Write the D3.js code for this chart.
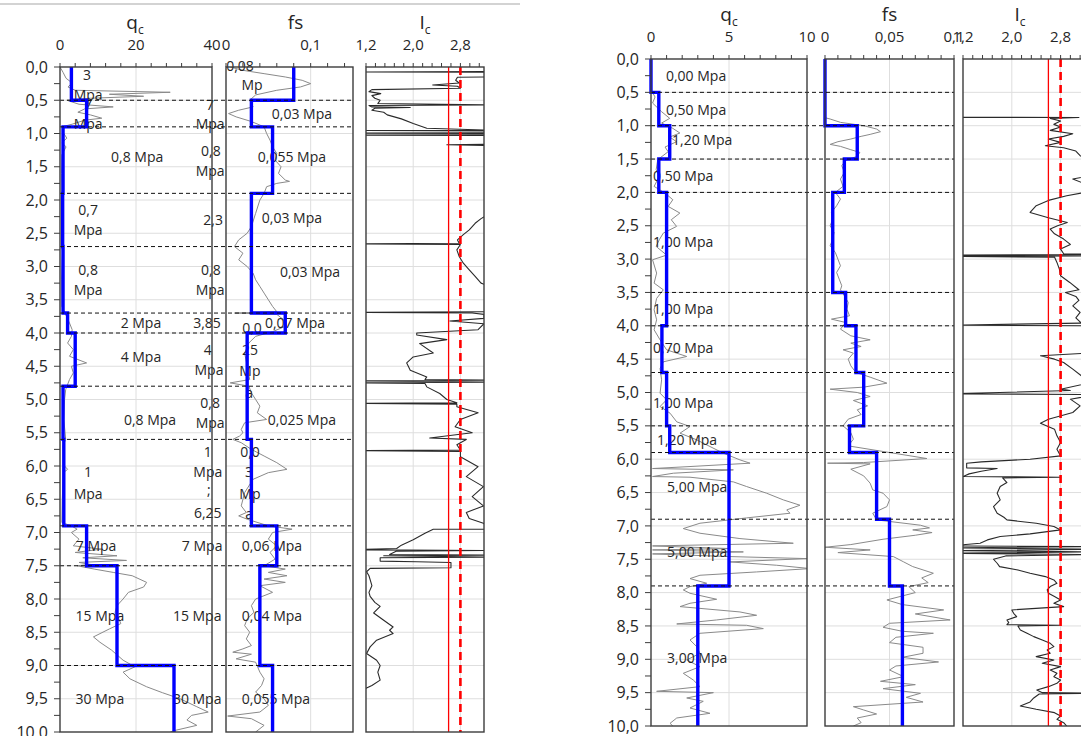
<!DOCTYPE html>
<html>
<head>
<meta charset="utf-8">
<script src="https://cdn.jsdelivr.net/npm/d3@7"></script>
<style>
  body { margin: 0; background: #fff; }
  svg { display: block; font-family: "Open Sans", sans-serif; }
</style>
</head>
<body>
<svg id="chart" width="1081" height="736"></svg>
<script>
// ---------------- depth axis ----------------
const depthTicks = [0, 0.5, 1, 1.5, 2, 2.5, 3, 3.5, 4, 4.5, 5, 5.5, 6, 6.5, 7, 7.5, 8, 8.5, 9, 9.5, 10];

// ---------------- profile A (left) ----------------
const aLayerBounds = [0, 0.5, 0.9, 1.9, 2.7, 3.7, 4.0, 4.8, 5.6, 6.9, 7.5, 9.0, 10];
const aQcLayers = [3, 7, 0.8, 0.7, 0.8, 2, 4, 0.8, 1, 7, 15, 30];
const aFsLayers = [0.08, 0.03, 0.055, 0.03, 0.03, 0.07, 0.025, 0.025, 0.03, 0.06, 0.04, 0.055];

// measured cone resistance [depth m, qc MPa]
const aQcRaw = [[0,0],[0.08,0.8],[0.17,1.6],[0.24,3.2],[0.3,2.1],[0.35,4],[0.38,29],[0.41,13],[0.44,22],[0.47,8],[0.5,1.8],
  [0.56,5],[0.6,14],[0.63,6.5],[0.68,4.7],[0.72,8],[0.77,11],[0.8,6.5],[0.86,3.2],[0.9,0.5],[1.0,1],[1.07,1.8],[1.14,0.5],
  [1.2,1.6],[1.32,0.5],[1.6,0.4],[2.0,0.5],[2.4,0.4],[2.8,0.6],[3.2,0.4],[3.6,0.5],[3.85,2.5],[3.95,3.2],[4.05,3.0],
  [4.15,2],[4.25,3.5],[4.35,2.5],[4.45,7],[4.5,3],[4.6,3.5],[4.7,2.5],[4.85,1.5],[5.0,1.2],[5.3,1],[5.6,1.5],[5.7,0.8],
  [6.0,1.2],[6.05,2],[6.1,0.9],[6.5,0.6],[6.85,0.5],[6.9,3],[6.95,4.5],[7.0,3],[7.1,5],[7.2,3.5],[7.25,11],[7.3,4],
  [7.35,15],[7.38,6],[7.42,17.5],[7.45,5],[7.48,8],[7.5,4.5],[7.55,9],[7.6,14],[7.65,19],[7.75,22.8],[7.82,22],[7.9,18],
  [8.0,16.6],[8.1,15],[8.2,14.5],[8.3,15.5],[8.37,16],[8.45,13],[8.57,8.8],[8.65,10.5],[8.77,13.6],[8.92,16.6],[9.02,19.7],
  [9.1,16.6],[9.2,18.4],[9.32,22.8],[9.41,27],[9.5,31.6],[9.62,36],[9.7,39],[9.75,34.6],[9.82,33.4],[9.9,36],[9.98,30],[10,29]];

// measured sleeve friction [depth m, fs MPa]
const aFsRaw = [[0,0.005],[0.05,0.02],[0.1,0.045],[0.15,0.07],[0.2,0.09],[0.25,0.1],[0.3,0.088],[0.35,0.06],[0.42,0.035],
  [0.5,0.028],[0.6,0.032],[0.65,0.015],[0.7,0.003],[0.75,0.012],[0.82,0.03],[0.9,0.045],[1.0,0.048],[1.1,0.052],[1.2,0.055],
  [1.3,0.06],[1.4,0.058],[1.5,0.065],[1.6,0.062],[1.7,0.07],[1.72,0.075],[1.75,0.06],[1.8,0.048],[1.9,0.045],[2.0,0.04],
  [2.2,0.035],[2.4,0.03],[2.5,0.025],[2.6,0.015],[2.7,0.01],[2.8,0.02],[2.9,0.015],[3.0,0.025],[3.1,0.032],[3.2,0.035],
  [3.3,0.04],[3.4,0.045],[3.5,0.05],[3.6,0.055],[3.68,0.06],[3.7,0.01],[3.72,0.06],[3.8,0.068],[3.9,0.07],[3.98,0.055],
  [4.05,0.035],[4.15,0.027],[4.3,0.022],[4.5,0.025],[4.7,0.028],[4.75,0.005],[4.8,0.027],[4.9,0.03],[5.0,0.035],[5.1,0.04],
  [5.2,0.037],[5.3,0.048],[5.35,0.022],[5.45,0.018],[5.5,0.02],[5.55,0.016],[5.6,0.008],[5.65,0.018],[5.75,0.03],[5.85,0.045],
  [5.95,0.06],[6.05,0.072],[6.1,0.05],[6.2,0.032],[6.4,0.022],[6.6,0.018],[6.7,0.024],[6.75,0.015],[6.8,0.025],[6.9,0.05],
  [6.95,0.078],[7.0,0.055],[7.1,0.05],[7.2,0.06],[7.3,0.052],[7.4,0.058],[7.5,0.045],[7.55,0.07],[7.6,0.05],[7.65,0.072],
  [7.7,0.045],[7.75,0.07],[7.8,0.04],[7.9,0.055],[8.0,0.035],[8.1,0.03],[8.2,0.033],[8.3,0.025],[8.4,0.022],[8.5,0.028],
  [8.6,0.024],[8.7,0.03],[8.75,0.02],[8.8,0.008],[8.83,0.03],[8.9,0.012],[8.95,0.035],[9.1,0.04],[9.2,0.045],[9.3,0.042],
  [9.4,0.035],[9.5,0.045],[9.6,0.05],[9.7,0.04],[9.76,0.002],[9.8,0.03],[9.9,0.045],[10,0.035]];

// soil behaviour type index [depth m, Ic]
const aIcRaw = [[0,3.3],[0.07,3.3],[0.075,1.0],[0.08,3.3],[0.15,3.3],[0.155,2.75],[0.2,2.72],[0.24,2.78],[0.27,2.33],
  [0.29,2.75],[0.32,2.8],[0.34,1.3],[0.37,1.25],[0.4,1.45],[0.43,1.3],[0.47,1.35],[0.5,1.44],[0.55,1.4],[0.57,3.3],
  [0.58,1.25],[0.6,1.3],[0.61,1.95],[0.62,1.35],[0.65,1.3],[0.68,1.5],[0.72,1.56],[0.78,1.8],[0.85,2.0],[0.92,2.23],
  [0.95,3.3],[0.955,1.0],[0.96,3.3],[0.99,3.3],[0.995,1.0],[1.0,3.3],[1.02,3.3],[1.025,1.0],[1.03,3.3],[1.16,3.3],
  [1.17,2.57],[1.18,3.3],[2.2,3.3],[2.28,3.15],[2.35,3.05],[2.45,2.95],[2.52,2.85],[2.6,2.75],[2.65,2.78],[2.66,1.0],
  [2.67,2.8],[2.75,2.74],[2.85,2.78],[2.95,2.85],[3.05,2.95],[3.15,3.05],[3.25,3.15],[3.3,3.3],[3.68,3.3],[3.69,1.0],
  [3.7,3.0],[3.72,3.2],[3.78,3.2],[3.82,2.62],[3.86,3.2],[3.95,3.1],[4.0,2.06],[4.03,2.06],[4.1,2.57],[4.16,2.11],
  [4.3,2.34],[4.36,2.0],[4.45,1.89],[4.56,1.95],[4.66,2.23],[4.7,2.2],[4.71,3.3],[4.72,1.0],[4.74,3.3],[4.75,1.0],
  [4.76,2.2],[4.81,2.23],[4.91,2.45],[5.0,2.57],[5.05,2.74],[5.06,1.0],[5.07,2.74],[5.11,2.74],[5.2,3.1],[5.3,2.8],
  [5.41,2.71],[5.5,3.0],[5.58,2.28],[5.6,2.9],[5.68,2.74],[5.76,2.8],[5.77,1.0],[5.78,2.8],[5.86,2.8],[6.01,3.1],
  [6.16,2.9],[6.31,3.19],[6.46,3.0],[6.6,3.19],[6.7,2.9],[6.79,2.95],[6.86,3.19],[6.95,3.3],[6.95,2.34],[7.01,2.2],
  [7.11,2.0],[7.19,1.8],[7.24,1.72],[7.26,1.0],[7.27,3.3],[7.28,1.72],[7.33,1.6],[7.34,3.3],[7.35,1.5],[7.37,3.3],
  [7.38,1.44],[7.43,1.44],[7.44,2.06],[7.45,2.64],[7.53,2.64],[7.54,1.27],[7.59,1.21],[7.65,1.25],[7.71,1.27],[7.8,1.3],
  [7.9,1.25],[7.96,1.27],[8.05,1.35],[8.11,1.44],[8.21,1.33],[8.32,1.5],[8.42,1.66],[8.47,1.6],[8.52,1.66],[8.62,1.38],
  [8.72,1.27],[8.82,1.21],[8.92,1.38],[9.0,1.44],[9.1,1.4],[9.22,1.44],[9.3,1.3],[9.34,1.21],[9.36,1.0],[10,1.0]];

// layer notes: [text, value on track scale, depth]
const aQcNotes = [["3",7.1,0.12],["Mpa",7.4,0.42],["7",7.4,0.57],["Mpa",7.4,0.86],["0,8 Mpa",20.3,1.35],
  ["0,7",7.4,2.15],["Mpa",7.4,2.45],["0,8",7.4,3.05],["Mpa",7.4,3.35],["2 Mpa",21.3,3.85],["4 Mpa",21.3,4.36],
  ["0,8 Mpa",23.7,5.31],["1",7.4,6.09],["Mpa",7.4,6.42],["7 Mpa",9.5,7.2],["15 Mpa",10.5,8.26],["30 Mpa",10.5,9.5],
  ["7",39.5,0.57],["Mpa",39.5,0.86],["0,8",39.7,1.26],["Mpa",39.5,1.56],["2,3",40.3,2.3],["0,8",39.7,3.05],
  ["Mpa",39.5,3.35],["3,85",38.7,3.85],["4",38.9,4.26],["Mpa",39.2,4.56],["0,8",39.5,5.05],["Mpa",39.5,5.35],
  ["1",38.9,5.79],["Mpa",38.9,6.09],[";",39.2,6.36],["6,25",38.9,6.71],["7 Mpa",37.4,7.2],["15 Mpa",36.1,8.26],
  ["30 Mpa",36.1,9.5]];
const aFsNotes = [["0,08",0.0165,-0.015],["Mp",0.0307,0.27],["0,03 Mpa",0.0897,0.71],["0,055 Mpa",0.0779,1.35],
  ["0,03 Mpa",0.0779,2.27],["0,03 Mpa",0.0992,3.08],["0,0",0.0307,3.92],["0,07 Mpa",0.0815,3.85],["25",0.0283,4.26],
  ["Mp",0.0283,4.57],["a",0.0272,4.9],["0,025 Mpa",0.0897,5.31],["0,0",0.0283,5.79],["3",0.0272,6.09],["Mp",0.0283,6.42],
  ["a",0.0272,6.72],["0,06 Mpa",0.0543,7.2],["0,04 Mpa",0.0543,8.26],["0,055 Mpa",0.059,9.5]];

// ---------------- profile B (right) ----------------
const bLayerBounds = [0, 0.5, 1.0, 1.5, 2.0, 3.5, 4.0, 4.7, 5.5, 5.9, 6.9, 7.9, 10];
const bQcLayers = [0, 0.5, 1.2, 0.5, 1.0, 1.0, 0.7, 1.0, 1.2, 5.0, 5.0, 3.0];
const bFsLayers = [0, 0, 0.025, 0.015, 0.006, 0.016, 0.024, 0.03, 0.019, 0.04, 0.05, 0.06];

const bQcRaw = [[0,0],[0.46,0],[0.57,0.26],[0.66,0.1],[0.79,0.68],[0.89,1.2],[0.96,0.68],[1.04,1.4],[1.11,1.85],
  [1.17,1.2],[1.24,1.64],[1.32,0.9],[1.39,1.1],[1.51,0.43],[1.66,0.33],[1.76,0.53],[1.91,0.2],[2.01,0.9],[2.11,1.4],
  [2.21,1.1],[2.31,1.85],[2.41,1.3],[2.51,1.64],[2.61,0.79],[2.71,0.53],[2.81,0.33],[2.94,1.0],[3.01,0.1],[3.21,0.36],
  [3.36,0.2],[3.46,0.79],[3.59,0.36],[3.76,0.2],[3.91,0.36],[4.06,0.2],[4.21,0.58],[4.36,1.0],[4.46,2.29],[4.54,0.79],
  [4.64,0.58],[4.81,0.68],[5.01,0.58],[5.11,1.0],[5.21,0.58],[5.31,1.22],[5.44,1.65],[5.51,2.5],[5.61,1.86],[5.71,2.93],
  [5.81,3.78],[5.91,4.64],[6.01,5.7],[6.06,6.35],[6.11,2.5],[6.14,0.1],[6.16,5.28],[6.21,1.43],[6.26,0.1],[6.27,2.5],
  [6.34,5.28],[6.41,6.13],[6.51,7.41],[6.61,8.48],[6.69,9.55],[6.76,8.7],[6.81,8.91],[6.88,6.13],[6.96,3.14],[7.04,2.07],
  [7.11,3.14],[7.19,5.7],[7.26,9.12],[7.3,0.1],[7.34,5.06],[7.36,0.1],[7.39,5.92],[7.42,0.1],[7.46,5.06],[7.49,9.98],
  [7.54,5.06],[7.59,8.06],[7.64,10.2],[7.69,6.77],[7.74,3.14],[7.79,2.5],[7.86,3.57],[7.91,2.5],[7.96,2.07],[8.01,2.5],
  [8.1,4.21],[8.16,2.5],[8.21,1.86],[8.29,5.7],[8.34,6.77],[8.41,4.21],[8.47,1.65],[8.49,6.13],[8.54,7.2],[8.61,3.14],
  [8.71,2.5],[8.81,2.93],[8.91,3.14],[9.01,2.29],[9.11,3.14],[9.21,2.07],[9.31,2.71],[9.41,3.14],[9.48,0.36],[9.5,4.0],
  [9.58,2.29],[9.63,3.35],[9.73,2.5],[9.81,3.78],[9.88,1.65],[9.96,1.22],[10,1.4]];

const bFsRaw = [[0,0],[0.88,0],[0.9,0.004],[0.95,0.012],[1.0,0.03],[1.05,0.04],[1.09,0.043],[1.13,0.035],[1.16,0.028],
  [1.2,0.02],[1.24,0.01],[1.28,0.004],[1.31,0.012],[1.36,0.02],[1.4,0.027],[1.46,0.025],[1.52,0.016],[1.6,0.013],
  [1.7,0.015],[1.8,0.012],[1.91,0.014],[2.0,0.008],[2.1,0.012],[2.2,0.009],[2.3,0.005],[2.4,0.006],[2.5,0.004],[2.6,0.007],
  [2.7,0.006],[2.8,0.004],[2.9,0.008],[3.0,0.01],[3.1,0.012],[3.2,0.009],[3.3,0.011],[3.4,0.013],[3.46,0.012],[3.55,0.015],
  [3.65,0.018],[3.75,0.017],[3.85,0.019],[3.9,0.005],[3.95,0.016],[4.05,0.012],[4.15,0.02],[4.21,0.035],[4.26,0.02],
  [4.31,0.028],[4.36,0.014],[4.41,0.022],[4.5,0.018],[4.6,0.02],[4.7,0.024],[4.77,0.035],[4.86,0.048],[4.92,0.03],
  [4.95,0.004],[5.0,0.025],[5.06,0.035],[5.12,0.022],[5.2,0.033],[5.26,0.025],[5.33,0.028],[5.4,0.018],[5.5,0.014],
  [5.6,0.02],[5.7,0.022],[5.8,0.018],[5.9,0.05],[5.99,0.079],[6.05,0.03],[6.06,0.002],[6.07,0.035],[6.15,0.02],[6.25,0.03],
  [6.36,0.035],[6.46,0.037],[6.51,0.045],[6.61,0.05],[6.71,0.048],[6.81,0.037],[6.91,0.04],[6.99,0.074],[7.03,0.081],
  [7.06,0.068],[7.1,0.083],[7.14,0.07],[7.2,0.045],[7.28,0.02],[7.32,0.0],[7.36,0.035],[7.4,0.01],[7.46,0.053],[7.54,0.061],
  [7.61,0.068],[7.71,0.084],[7.78,0.075],[7.85,0.08],[7.91,0.065],[8.0,0.07],[8.05,0.06],[8.11,0.048],[8.18,0.06],
  [8.26,0.092],[8.32,0.07],[8.41,0.097],[8.46,0.05],[8.52,0.045],[8.58,0.06],[8.61,0.084],[8.67,0.055],[8.75,0.05],
  [8.82,0.076],[8.91,0.076],[8.97,0.06],[9.04,0.088],[9.1,0.055],[9.16,0.05],[9.26,0.061],[9.33,0.043],[9.38,0.07],
  [9.44,0.045],[9.51,0.074],[9.57,0.063],[9.64,0.076],[9.71,0.022],[9.76,0.03],[9.82,0.04],[9.88,0.025],[9.95,0.028],[10,0.022]];

const bIcRaw = [[0.875,1.0],[0.876,3.1],[0.89,2.63],[0.93,2.8],[0.98,2.69],[1.02,2.8],[1.07,2.63],[1.12,3.0],[1.16,2.85],
  [1.2,2.6],[1.25,2.8],[1.3,2.55],[1.33,2.85],[1.38,3.05],[1.45,3.12],[1.52,3.3],[1.6,3.4],[1.75,3.3],[1.8,3.0],[1.85,3.14],
  [1.9,3.4],[2.0,3.2],[2.05,2.9],[2.12,2.6],[2.2,2.4],[2.3,2.3],[2.38,2.6],[2.45,2.91],[2.5,2.75],[2.55,2.63],[2.62,2.7],
  [2.7,2.85],[2.78,2.96],[2.85,2.8],[2.92,2.85],[2.93,3.4],[2.94,1.0],[2.95,3.4],[2.96,1.0],[2.97,2.7],[3.05,2.74],
  [3.15,2.78],[3.25,2.8],[3.35,2.95],[3.46,3.1],[3.5,2.88],[3.56,3.05],[3.62,3.1],[3.7,3.0],[3.8,3.12],[3.88,3.05],
  [3.96,3.14],[3.99,1.0],[4.0,3.4],[4.4,3.4],[4.45,2.47],[4.5,2.7],[4.55,2.85],[4.65,3.0],[4.75,3.14],[4.85,3.3],[4.95,2.8],
  [4.97,2.96],[5.02,1.0],[5.03,3.4],[5.1,2.96],[5.2,3.12],[5.3,3.0],[5.4,2.6],[5.46,2.47],[5.55,2.7],[5.65,2.74],
  [5.75,2.8],[5.85,2.74],[5.95,2.8],[6.0,2.3],[6.04,1.5],[6.06,1.26],[6.13,1.26],[6.14,1.76],[6.18,1.5],[6.22,1.3],
  [6.26,1.2],[6.27,2.8],[6.28,1.85],[6.35,1.92],[6.41,1.81],[6.51,1.76],[6.61,1.81],[6.71,1.7],[6.81,1.76],[6.87,1.87],
  [6.91,1.92],[6.96,2.4],[7.01,2.69],[7.06,2.8],[7.12,2.3],[7.16,1.81],[7.21,1.6],[7.26,1.48],[7.3,1.0],[7.31,3.4],
  [7.33,1.0],[7.35,3.4],[7.37,1.0],[7.39,3.4],[7.41,1.0],[7.43,3.4],[7.45,1.9],[7.5,1.7],[7.56,1.76],[7.61,1.8],[7.66,2.1],
  [7.71,2.3],[7.76,2.55],[7.81,2.69],[7.86,2.74],[7.91,2.63],[7.96,2.58],[8.01,2.6],[8.06,2.7],[8.11,2.8],[8.16,2.69],
  [8.21,2.85],[8.26,2.0],[8.31,2.03],[8.36,2.08],[8.41,1.92],[8.45,1.95],[8.48,1.92],[8.49,2.8],[8.5,2.1],[8.56,2.14],
  [8.61,2.25],[8.66,2.36],[8.71,2.5],[8.76,2.63],[8.81,2.69],[8.86,2.58],[8.91,2.63],[8.96,2.4],[9.01,2.69],[9.06,2.5],
  [9.11,2.8],[9.16,2.63],[9.21,2.74],[9.26,2.69],[9.31,2.8],[9.36,2.74],[9.41,2.6],[9.46,2.41],[9.5,2.5],[9.51,3.4],
  [9.52,2.45],[9.58,2.36],[9.64,2.3],[9.7,2.14],[9.75,2.4],[9.8,2.7],[9.85,2.8],[9.9,2.74],[9.95,2.85],[10,2.9]];

const bQcNotes = [["0,00 Mpa",0.96,0.25],["0,50 Mpa",0.96,0.76],["1,20 Mpa",1.35,1.21],["0,50 Mpa",0.13,1.75],
  ["1,00 Mpa",0.13,2.74],["1,00 Mpa",0.13,3.75],["0,70 Mpa",0.13,4.33],["1,00 Mpa",0.13,5.16],["1,20 Mpa",0.38,5.71],
  ["5,00 Mpa",1.03,6.42],["5,00 Mpa",1.03,7.4],["3,00 Mpa",1.03,8.98]];

// Ic limits
const icLimitSolid = 2.6;
const icLimitDashed = 2.8;

// top axis tick values and labels
const aQcTicks = [0, 20, 40], aQcTickLabels = ["0", "20", "40"];
const aFsTicks = [0, 0.1], aFsTickLabels = ["0", "0,1"];
const icTicks = [1.2, 2.0, 2.8], icTickLabels = ["1,2", "2,0", "2,8"];
const bQcTicks = [0, 5, 10], bQcTickLabels = ["0", "5", "10"];
const bFsTicks = [0, 0.05, 0.1], bFsTickLabels = ["0", "0,05", "0,1"];

// ---------------- drawing ----------------
const svg = d3.select("#chart");
const defs = svg.append("defs");
const comma1 = d => d3.format(".1f")(d).replace(".", ",");
let clipCount = 0;

// thin rule along the top of the left sheet
svg.append("line").attr("x1", 0).attr("x2", 520).attr("y1", 4).attr("y2", 4)
  .attr("stroke", "#c4c4c4").attr("stroke-width", 1.5);

function stepPoints(bounds, values) {
  const pts = [];
  values.forEach((v, i) => { pts.push([v, bounds[i]]); pts.push([v, bounds[i + 1]]); });
  return pts;
}

function drawPanel(p) {
  const y = d3.scaleLinear().domain([0, 10]).range(p.yRange);
  const g = svg.append("g");
  const tracks = p.tracks.map(t => {
    const x = d3.scaleLinear().domain(t.domain).range(t.range);
    const id = "clip" + (clipCount++);
    defs.append("clipPath").attr("id", id).append("rect")
      .attr("x", t.range[0]).attr("y", p.yRange[0])
      .attr("width", t.range[1] - t.range[0]).attr("height", p.yRange[1] - p.yRange[0]);
    return Object.assign({}, t, { x, clip: "url(#" + id + ")" });
  });

  // gridlines
  tracks.forEach(t => {
    const gg = g.append("g").attr("clip-path", t.clip);
    gg.selectAll("line.h").data(depthTicks.slice(1, -1)).join("line")
      .attr("x1", t.range[0]).attr("x2", t.range[1])
      .attr("y1", d => y(d)).attr("y2", d => y(d))
      .attr("stroke", "#dedede").attr("stroke-width", 1);
    gg.selectAll("line.v").data(t.ticks.filter(v => v > t.domain[0] && v < t.domain[1])).join("line")
      .attr("x1", d => t.x(d)).attr("x2", d => t.x(d))
      .attr("y1", p.yRange[0]).attr("y2", p.yRange[1])
      .attr("stroke", "#dedede").attr("stroke-width", 1);
  });

  // measured traces
  tracks.forEach(t => {
    if (!t.raw) return;
    const line = d3.line().x(d => t.x(d[1])).y(d => y(d[0]));
    g.append("path").attr("clip-path", t.clip).datum(t.raw)
      .attr("d", line).attr("fill", "none")
      .attr("stroke", t.rawColor).attr("stroke-width", t.rawWidth).attr("stroke-linejoin", "round");
  });

  // Ic limit lines
  tracks.filter(t => t.ic).forEach(t => {
    g.append("line").attr("x1", t.x(icLimitSolid)).attr("x2", t.x(icLimitSolid))
      .attr("y1", p.yRange[0]).attr("y2", p.yRange[1])
      .attr("stroke", "#ff0000").attr("stroke-width", 1.3);
    g.append("line").attr("x1", t.x(icLimitDashed)).attr("x2", t.x(icLimitDashed))
      .attr("y1", p.yRange[0]).attr("y2", p.yRange[1])
      .attr("stroke", "#ff0000").attr("stroke-width", 2.6).attr("stroke-dasharray", "8,5");
  });

  // layer notes
  tracks.forEach(t => {
    if (!t.notes) return;
    g.append("g").selectAll("text").data(t.notes).join("text")
      .attr("x", d => t.x(d[1])).attr("y", d => y(d[2]))
      .attr("dy", "0.35em").attr("text-anchor", t.noteAnchor)
      .attr("font-size", 14).attr("fill", "#262626")
      .text(d => d[0]);
  });

  // layered design profile
  tracks.forEach(t => {
    if (!t.layers) return;
    const line = d3.line().x(d => t.x(d[0])).y(d => y(d[1]));
    g.append("path").datum(stepPoints(p.bounds, t.layers))
      .attr("d", line).attr("fill", "none")
      .attr("stroke", "#0000ff").attr("stroke-width", 3.4).attr("stroke-linejoin", "miter");
  });

  // layer boundaries
  g.selectAll("line.layer").data(p.bounds.slice(1, -1)).join("line")
    .attr("x1", p.tracks[0].range[0]).attr("x2", p.tracks[1].range[1])
    .attr("y1", d => y(d)).attr("y2", d => y(d))
    .attr("stroke", "#111").attr("stroke-width", 1).attr("stroke-dasharray", "4,3");

  // frames and top axes
  tracks.forEach(t => {
    g.append("rect").attr("x", t.range[0]).attr("y", p.yRange[0])
      .attr("width", t.range[1] - t.range[0]).attr("height", p.yRange[1] - p.yRange[0])
      .attr("fill", "none").attr("stroke", "#3c3c3c").attr("stroke-width", 1.4);
    const minor = d3.range(t.domain[0], t.domain[1] + 1e-9, t.minor);
    g.append("g").selectAll("line").data(minor).join("line")
      .attr("x1", d => t.x(d)).attr("x2", d => t.x(d))
      .attr("y1", p.yRange[0] - 4).attr("y2", p.yRange[0])
      .attr("stroke", "#3c3c3c").attr("stroke-width", 1);
    g.append("g").selectAll("text").data(t.ticks).join("text")
      .attr("x", d => t.x(d)).attr("y", p.yRange[0] - 17)
      .attr("text-anchor", "middle").attr("font-size", 15).attr("fill", "#262626")
      .text((d, i) => t.tickLabels[i]);
    const title = g.append("text").attr("x", t.x((t.domain[0] + t.domain[1]) / 2) + (t.titleShift || 0))
      .attr("y", p.yRange[0] - 38).attr("text-anchor", "middle")
      .attr("font-size", 19).attr("fill", "#262626");
    title.append("tspan").text(t.title);
    if (t.sub) title.append("tspan").attr("font-size", 12).attr("dy", 5).text(t.sub);
  });

  // depth axis
  const x0 = p.tracks[0].range[0];
  const minorDepth = d3.range(0, 10.001, 0.25);
  g.append("g").selectAll("line").data(minorDepth).join("line")
    .attr("x1", x0 - 6).attr("x2", x0).attr("y1", d => y(d)).attr("y2", d => y(d))
    .attr("stroke", "#3c3c3c").attr("stroke-width", 1);
  g.append("g").selectAll("text").data(depthTicks).join("text")
    .attr("x", x0 - 12).attr("y", d => y(d)).attr("dy", "0.35em")
    .attr("text-anchor", "end").attr("font-size", 16).attr("fill", "#262626")
    .text(comma1);
}

drawPanel({
  yRange: [67, 732],
  bounds: aLayerBounds,
  tracks: [
    { domain: [0, 40], range: [60, 212], ticks: aQcTicks, tickLabels: aQcTickLabels, minor: 4,
      title: "q", sub: "c", titleShift: -1, raw: aQcRaw, rawColor: "#8a8a8a", rawWidth: 1,
      layers: aQcLayers, notes: aQcNotes, noteAnchor: "middle" },
    { domain: [0, 0.15], range: [226, 353], ticks: aFsTicks, tickLabels: aFsTickLabels, minor: 0.02,
      title: "fs", titleShift: 6, raw: aFsRaw, rawColor: "#8a8a8a", rawWidth: 1,
      layers: aFsLayers, notes: aFsNotes, noteAnchor: "middle" },
    { domain: [1.2, 3.2], range: [366, 484], ticks: icTicks, tickLabels: icTickLabels, minor: 0.16,
      title: "I", sub: "c", raw: aIcRaw, rawColor: "#2a2a2a", rawWidth: 1.1, ic: true }
  ]
});

drawPanel({
  yRange: [59, 726],
  bounds: bLayerBounds,
  tracks: [
    { domain: [0, 10], range: [651, 807], ticks: bQcTicks, tickLabels: bQcTickLabels, minor: 1,
      title: "q", sub: "c", titleShift: 0, raw: bQcRaw, rawColor: "#8a8a8a", rawWidth: 1,
      layers: bQcLayers, notes: bQcNotes, noteAnchor: "start" },
    { domain: [0, 0.1], range: [825, 954], ticks: bFsTicks, tickLabels: bFsTickLabels, minor: 0.01,
      title: "fs", raw: bFsRaw, rawColor: "#8a8a8a", rawWidth: 1, layers: bFsLayers },
    { domain: [1.2, 3.2], range: [963, 1085], ticks: icTicks, tickLabels: icTickLabels, minor: 0.16,
      title: "I", sub: "c", titleShift: -4, raw: bIcRaw, rawColor: "#2a2a2a", rawWidth: 1.1, ic: true }
  ]
});
</script>
</body>
</html>
